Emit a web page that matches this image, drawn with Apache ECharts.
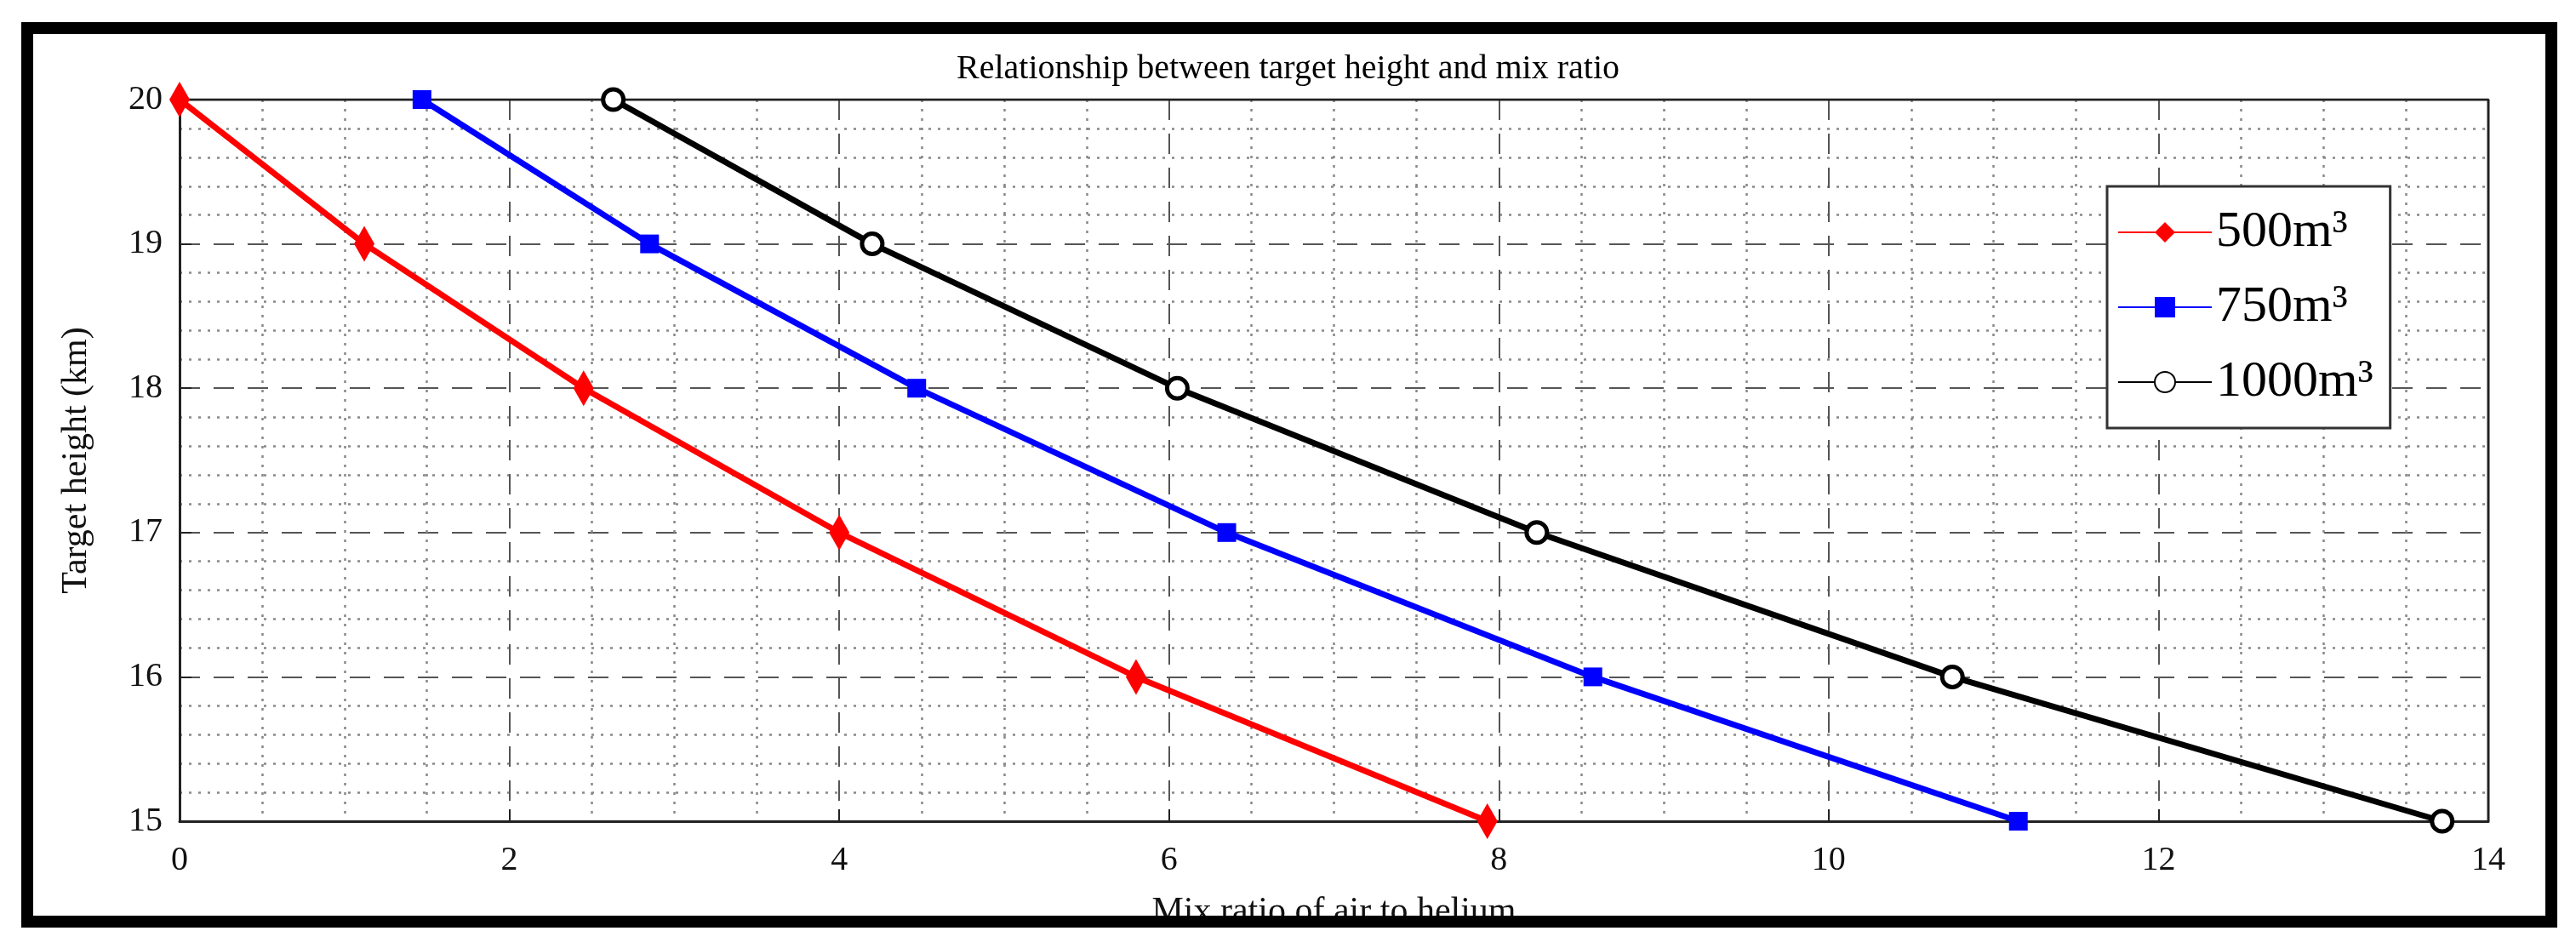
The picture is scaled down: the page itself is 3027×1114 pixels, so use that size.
<!DOCTYPE html><html><head><meta charset="utf-8"><script src="https://cdn.jsdelivr.net/npm/echarts@6/dist/echarts.min.js"></script>
<style>html,body{margin:0;background:#fff}#c{width:3027px;height:1114px}</style></head><body><div id="c"></div><script>
const heights=[20,19,18,17,16,15];
const s500=[0,1.12,2.45,4.0,5.8,7.93];
const s750=[1.47,2.85,4.47,6.35,8.57,11.15];
const s1000=[2.63,4.2,6.05,8.23,10.75,13.72];
const names=['500m³','750m³','1000m³'];
const F='Liberation Serif';
const ch=echarts.init(document.getElementById('c'));
const mk=(name,xs,color,sym,size)=>({name,type:'line',data:xs.map((x,i)=>[x,heights[i]]),
 lineStyle:{color,width:7},itemStyle:{color:sym==='circle'?'#fff':color,borderColor:color,borderWidth:sym==='circle'?5:0},
 color,symbol:sym,symbolSize:size,z:5});
ch.setOption({
 animation:false,
 title:{text:'Relationship between target height and mix ratio',left:'center',top:56,textStyle:{fontFamily:F,fontWeight:'normal',fontSize:40,color:'#000'}},
 graphic:[{type:'rect',shape:{x:32,y:33,width:2966,height:1050},style:{fill:'none',stroke:'#000',lineWidth:14},z:100}],
 grid:{left:211,right:103,top:117,bottom:149},
 legend:{orient:'vertical',left:2476,top:219,width:344,itemWidth:110,itemHeight:30,itemGap:28,padding:[24,20,24,12],
  backgroundColor:'#fff',borderColor:'#333',borderWidth:3,
  textStyle:{fontFamily:F,fontSize:60,color:'#000'},data:names},
 xAxis:{type:'value',min:0,max:14,interval:2,name:'Mix ratio of air to helium',nameLocation:'middle',nameGap:86,
  nameTextStyle:{fontFamily:F,fontSize:42,color:'#111'},
  axisLine:{show:true,onZero:false,lineStyle:{color:'#222',width:3}},axisTick:{show:true,inside:true,length:14,lineStyle:{color:'#222',width:2}},
  axisLabel:{fontFamily:F,fontSize:40,color:'#111',margin:26},
  splitLine:{show:true,lineStyle:{color:'#555',width:2,type:[24,16]}},
  minorTick:{show:false,splitNumber:4},minorSplitLine:{show:true,lineStyle:{color:'#888',width:2.5,type:[3,8]}}},
 yAxis:{type:'value',min:15,max:20,interval:1,name:'Target height (km)',nameLocation:'middle',nameGap:100,
  nameTextStyle:{fontFamily:F,fontSize:42,color:'#111'},
  axisLine:{show:true,lineStyle:{color:'#222',width:3}},axisTick:{show:true,inside:true,length:14,lineStyle:{color:'#222',width:2}},
  axisLabel:{fontFamily:F,fontSize:40,color:'#111',margin:20},
  splitLine:{show:true,lineStyle:{color:'#555',width:2,type:[24,16]}},
  minorTick:{show:false,splitNumber:5},minorSplitLine:{show:true,lineStyle:{color:'#888',width:2.5,type:[3,8]}}},
 series:[mk(names[0],s500,'#ff0000','diamond',[24,42]),mk(names[1],s750,'#0000ff','rect',22),mk(names[2],s1000,'#000000','circle',24),
  {type:'line',data:[[14,15],[14,20],[0,20]],symbol:'none',lineStyle:{color:'#222',width:3},silent:true,z:2}]
});
</script></body></html>
